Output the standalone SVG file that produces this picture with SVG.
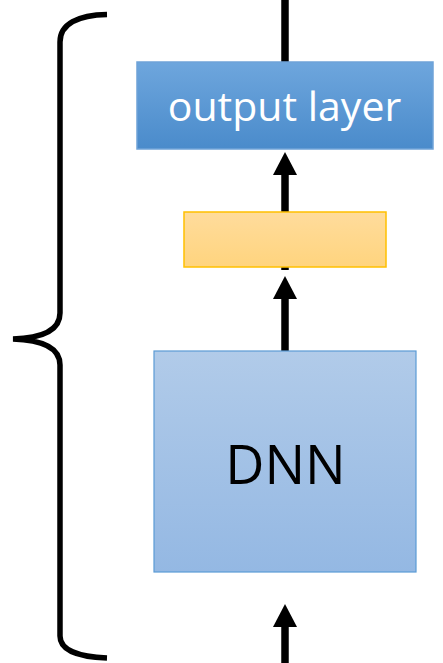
<svg xmlns="http://www.w3.org/2000/svg" width="443" height="663" viewBox="0 0 443 663">
<defs>
<linearGradient id="gOut" x1="0" y1="0" x2="0" y2="1"><stop offset="0" stop-color="#6ea6dd"/><stop offset="1" stop-color="#4a8bcb"/></linearGradient>
<linearGradient id="gYel" x1="0" y1="0" x2="0" y2="1"><stop offset="0" stop-color="#ffdc9c"/><stop offset="1" stop-color="#ffd47e"/></linearGradient>
<linearGradient id="gDnn" x1="0" y1="0" x2="0" y2="1"><stop offset="0" stop-color="#b1cbe9"/><stop offset="1" stop-color="#94b8e3"/></linearGradient>
<marker id="ah" markerUnits="userSpaceOnUse" markerWidth="23" markerHeight="24" viewBox="0 0 23 24" refX="0" refY="12" orient="auto">
<path d="M0,0 L23,12 L0,24 Z" fill="#000"/>
</marker>
<style>
.shaft{stroke:#000;stroke-width:7.5;fill:none}
.arr{marker-end:url(#ah)}
.lbl{font-family:"Open Sans","Liberation Sans",sans-serif;text-anchor:middle}
</style>
</defs>
<g id="brace">
<path d="M107,14.5 C78,15 60,24 60,42 L60,313 C60,330 44,338 13,339 C44,340 60,348 60,365 L60,636 C60,650 78,657 107,658" fill="none" stroke="#000" stroke-width="5.5"/>
</g>
<g id="connectors">
<line class="shaft" x1="285" y1="62" x2="285" y2="0"/>
<line class="shaft arr" x1="285" y1="212" x2="285" y2="175"/>
<line class="shaft" x1="285" y1="262" x2="285" y2="270"/>
<line class="shaft arr" x1="285" y1="351" x2="285" y2="299"/>
<line class="shaft arr" x1="285" y1="663" x2="285" y2="627"/>
</g>
<g id="output-layer">
<rect x="137" y="62" width="296" height="87" fill="url(#gOut)" stroke="#6fa3d8" stroke-width="1.5"/>
<text class="lbl" x="284.5" y="121" font-size="41" fill="#fff">output layer</text>
</g>
<g id="hidden">
<rect x="184" y="212" width="202" height="55" fill="url(#gYel)" stroke="#ffc000" stroke-width="1.5"/>
</g>
<g id="dnn">
<rect x="154" y="351" width="262" height="221" fill="url(#gDnn)" stroke="#5b9bd5" stroke-width="1.2"/>
<text class="lbl" x="285.5" y="484" font-size="54" fill="#000">DNN</text>
</g>
</svg>
